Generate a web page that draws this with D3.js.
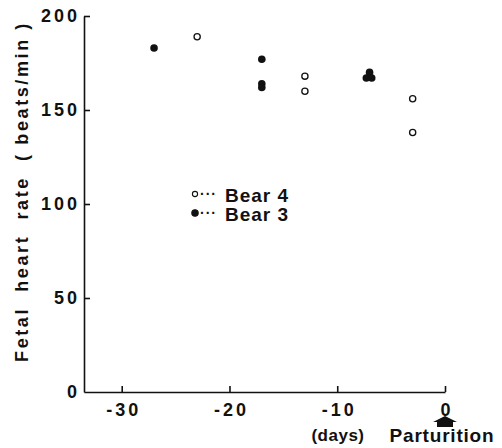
<!DOCTYPE html>
<html>
<head>
<meta charset="utf-8">
<script src="https://cdn.jsdelivr.net/npm/d3@7"></script>
<style>
  body { margin: 0; background: #fff; }
  svg text { font-family: "Liberation Sans", Arial, sans-serif; font-weight: bold; fill: #111; }
  .axis path, .axis line { stroke: #111; stroke-width: 1.6; }
  .axis text { font-size: 18px; letter-spacing: 3px; }
</style>
</head>
<body>
<script>
// Bear 4 (open circles)
const bear4Days = [-23, -13, -13, -3, -3];
const bear4Rate = [189, 168, 160, 156, 138];
// Bear 3 (filled circles)
const bear3Days = [-27, -17, -17, -17, -7, -7.3, -6.8];
const bear3Rate = [183, 177, 164, 162, 170, 167, 167];

const xTicks = [-30, -20, -10, 0];
const yTicks = [0, 50, 100, 150, 200];
const legendLabels = ['Bear 4', 'Bear 3'];

let width = 502;
let height = 448;
let margin = {top: 16, left: 84, right: 57, bottom: 56};

let svg = d3.select('body').append('svg')
    .attr('width', width)
    .attr('height', height);

let scale = {
  x: d3.scaleLinear().domain([-33.5, 0]).range([margin.left, width - margin.right]),
  y: d3.scaleLinear().domain([0, 200]).range([height - margin.bottom, margin.top]),
};

// axes, ticks point inward
let axisY = svg.append('g')
    .attr('class', 'axis')
    .attr('transform', `translate(${margin.left},0)`)
    .call(d3.axisLeft(scale.y).tickValues(yTicks).tickSize(-6).tickSizeOuter(0).tickPadding(4));
axisY.selectAll('.tick').filter((d) => d === 0).select('line').remove();

let axisX = svg.append('g')
    .attr('class', 'axis')
    .attr('transform', `translate(0,${scale.y(0)})`)
    .call(d3.axisBottom(scale.x).tickValues(xTicks).tickSize(-6).tickSizeOuter(0).tickPadding(11)
        .tickFormat((d) => d === 0 ? '0' : '-' + Math.abs(d)));
axisX.selectAll('.tick text').attr('dx', '1.5px');

// y title
svg.append('text')
    .attr('transform', `translate(28,${(20 + 363) / 2}) rotate(-90)`)
    .attr('text-anchor', 'middle')
    .style('font-size', '18px')
    .style('letter-spacing', '2.6px')
    .style('white-space', 'pre')
    .text('Fetal  heart  rate  ( beats/min )');

// x labels
svg.append('text')
    .attr('x', 338).attr('y', 441)
    .attr('text-anchor', 'middle')
    .style('font-size', '17px')
    .style('letter-spacing', '0.5px')
    .text('(days)');

svg.append('text')
    .attr('x', 442).attr('y', 442)
    .attr('text-anchor', 'middle')
    .style('font-size', '19px')
    .style('letter-spacing', '0.8px')
    .text('Parturition');

// parturition arrow under 0
let ax = scale.x(0);
svg.append('path')
    .attr('d', `M${ax},416 L${ax + 12},422 L${ax + 8},422 L${ax + 8},427 L${ax - 8},427 L${ax - 8},422 L${ax - 12},422 Z`)
    .attr('fill', '#111');

// points
svg.append('g').selectAll('circle')
    .data(bear4Days)
    .enter()
    .append('circle')
    .attr('cx', (d) => scale.x(d))
    .attr('cy', (d, i) => scale.y(bear4Rate[i]))
    .attr('r', 3.1)
    .attr('fill', '#fff')
    .attr('stroke', '#111')
    .attr('stroke-width', 1.3);

svg.append('g').selectAll('circle')
    .data(bear3Days)
    .enter()
    .append('circle')
    .attr('cx', (d) => scale.x(d))
    .attr('cy', (d, i) => scale.y(bear3Rate[i]))
    .attr('r', 3.8)
    .attr('fill', '#111');

// legend
let legend = svg.append('g').selectAll('g')
    .data(legendLabels)
    .enter()
    .append('g')
    .attr('transform', (d, i) => `translate(195,${194 + i * 19})`);

legend.append('circle')
    .attr('r', (d, i) => i === 0 ? 2.6 : 3.2)
    .attr('fill', (d, i) => i === 0 ? '#fff' : '#111')
    .attr('stroke', '#111')
    .attr('stroke-width', 1.1);

legend.append('text')
    .attr('x', 5).attr('y', 4.5)
    .style('font-size', '14px')
    .style('letter-spacing', '1px')
    .text('···');

legend.append('text')
    .attr('x', 30).attr('y', 8)
    .style('font-size', '19px')
    .style('letter-spacing', '1px')
    .text((d) => d);
</script>
</body>
</html>
